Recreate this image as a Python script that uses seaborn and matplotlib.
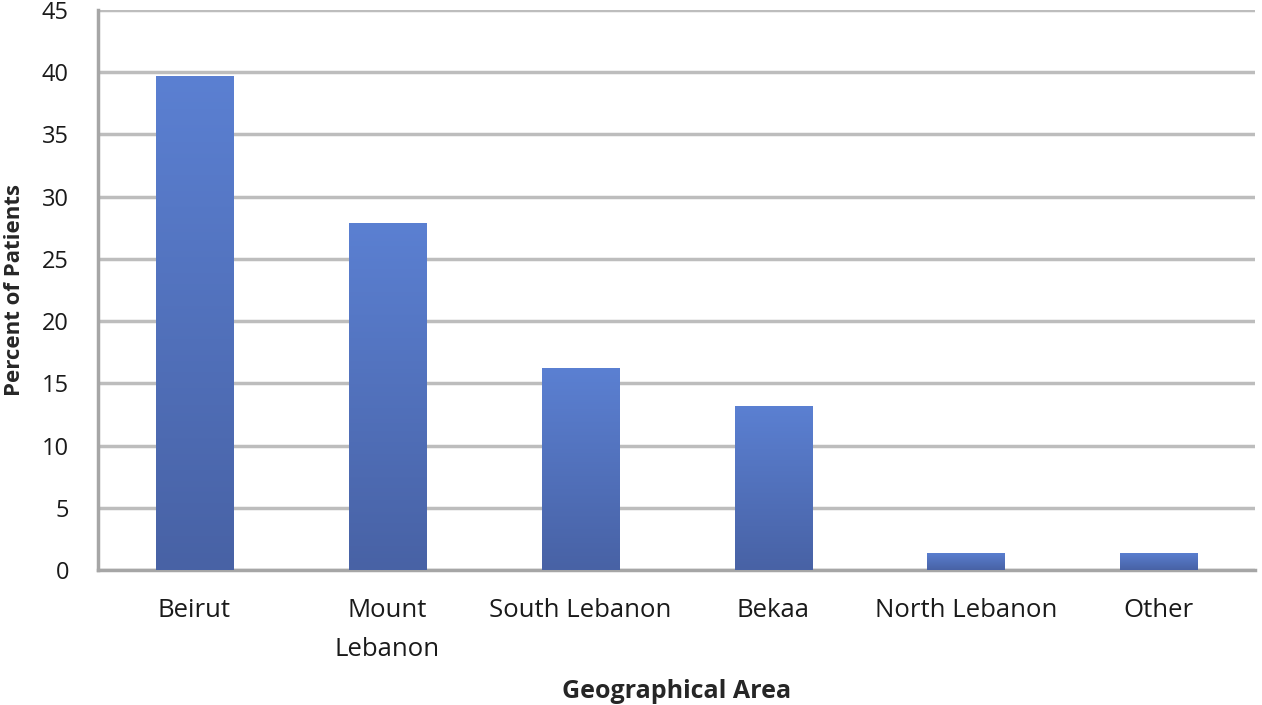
import numpy as np
import pandas as pd
import seaborn as sns
from matplotlib import pyplot as plt
from matplotlib.colors import LinearSegmentedColormap

# data
areas = ['Beirut', 'Mount\nLebanon', 'South Lebanon', 'Bekaa', 'North Lebanon', 'Other']
percents = [39.7, 27.9, 16.2, 13.2, 1.4, 1.4]

df = pd.DataFrame({'area': areas, 'pct': percents})

sns.set_style('white')
plt.rcParams['font.family'] = ['Open Sans', 'DejaVu Sans']

fig = plt.figure(figsize=(12.62, 7.05), dpi=100)
ax = fig.add_axes([0.0777, 0.1915, 0.917, 0.7943])

sns.barplot(data=df, x='area', y='pct', color='#5679c8', width=0.40,
            saturation=1, ax=ax, zorder=3)

# vertical gradient on each bar (lighter top, darker bottom)
cmap = LinearSegmentedColormap.from_list('bar', ['#4862a5', '#5b80d2'])
grad = np.linspace(0, 1, 256).reshape(-1, 1)
for bar in ax.patches:
    x0, y0 = bar.get_x(), bar.get_y()
    w, h = bar.get_width(), bar.get_height()
    im = ax.imshow(grad, cmap=cmap, origin='lower', aspect='auto',
                   extent=[x0, x0 + w, y0, y0 + h], zorder=4)
    im.set_clip_path(bar)
    bar.set_edgecolor('none')

ax.set_xlim(-0.5, 5.5)
ax.set_ylim(0, 45)
ax.set_yticks(range(0, 46, 5))

# excel-like grid and ticks
grid_c = '#bdbdbd'
ax.yaxis.grid(True, color=grid_c, linewidth=2.5, zorder=0)
ax.set_axisbelow(True)
for side in ['top', 'right']:
    ax.spines[side].set_visible(False)
for side in ['left', 'bottom']:
    ax.spines[side].set_color('#a6a6a6')
    ax.spines[side].set_linewidth(2.5)

# x ticks at category borders, labels centred
ax.set_xticks(np.arange(-0.5, 6.0, 1.0))
ax.set_xticklabels([])
ax.set_xticks(range(len(areas)), minor=True)
ax.set_xticklabels(areas, minor=True, fontsize=18.5, linespacing=1.75,
                   color='#1a1a1a')
ax.tick_params(axis='x', which='major', length=7, width=2.5, color='#a6a6a6',
               direction='out')
ax.tick_params(axis='x', which='minor', length=0, pad=20)
ax.tick_params(axis='y', length=7, width=2.5, color=grid_c, labelsize=17,
               pad=14, labelcolor='#1a1a1a')

ax.set_xlabel('Geographical Area', fontsize=18, fontweight='bold', labelpad=12)
ax.set_ylabel('Percent of Patients', fontsize=16, fontweight='bold', labelpad=12)

fig.savefig('out.png', dpi=100)
